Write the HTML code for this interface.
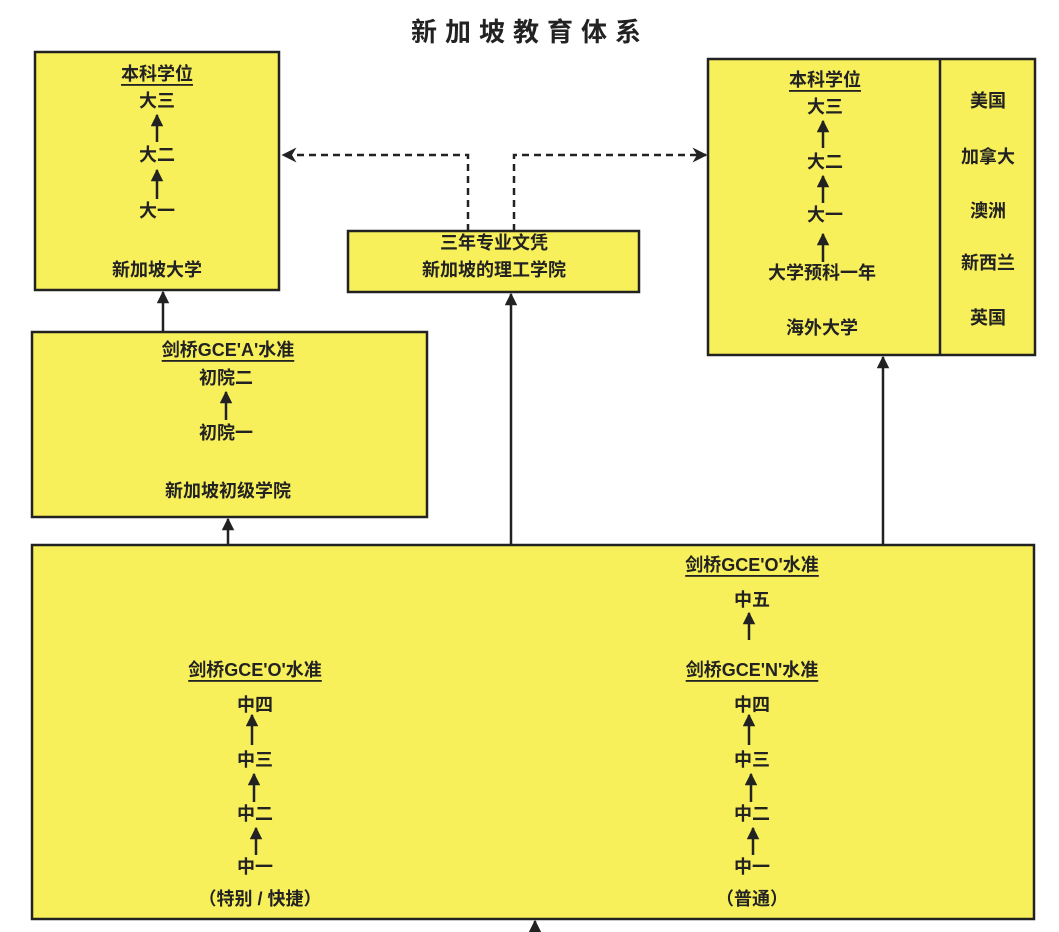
<!DOCTYPE html>
<html><head><meta charset="utf-8"><style>
body{margin:0;background:#fff}
svg{display:block}
text{font-family:"Liberation Sans","Noto Sans CJK SC",sans-serif;font-weight:bold;fill:#222;text-anchor:middle;dominant-baseline:central}
.b{fill:#f8f05a;stroke:#222;stroke-width:2.5}
.l{stroke:#222;stroke-width:2.5;fill:none}
.u{text-decoration:underline}
</style></head><body>
<svg width="1059" height="932" viewBox="0 0 1059 932" xmlns="http://www.w3.org/2000/svg">
<defs>
<marker id="a" viewBox="0 0 10 10" refX="9" refY="5" markerWidth="5" markerHeight="5" orient="auto"><path d="M0,0 L10,5 L0,10 z" fill="#222"/></marker>
<marker id="o" viewBox="0 0 10 10" refX="9" refY="5" markerWidth="6" markerHeight="6" orient="auto"><path d="M0,0 L10,5 L0,10 L3,5 z" fill="#222"/></marker>
</defs>
<text x="530" y="32" style="font-size:26px;letter-spacing:8px">新加坡教育体系</text>
<rect class="b" x="35" y="52" width="244" height="238"/>
<rect class="b" x="348" y="231" width="291" height="61"/>
<rect class="b" x="708" y="59" width="327" height="296"/>
<line class="l" x1="940" y1="59" x2="940" y2="355"/>
<rect class="b" x="32" y="332" width="395" height="185"/>
<rect class="b" x="32" y="545" width="1002" height="374"/>
<!-- connectors -->
<path class="l" d="M468,231 V155 H283" stroke-dasharray="7,5" marker-end="url(#o)"/>
<path class="l" d="M514,231 V155 H706" stroke-dasharray="7,5" marker-end="url(#o)"/>
<line class="l" x1="163" y1="332" x2="163" y2="292" marker-end="url(#a)"/>
<line class="l" x1="228" y1="545" x2="228" y2="519" marker-end="url(#a)"/>
<line class="l" x1="511" y1="545" x2="511" y2="294" marker-end="url(#a)"/>
<line class="l" x1="883" y1="545" x2="883" y2="357" marker-end="url(#a)"/>
<line class="l" x1="535" y1="940" x2="535" y2="921" marker-end="url(#a)"/>
<!-- left box -->
<g style="font-size:18px">
<text x="157" y="74" class="u" text-decoration="underline">本科学位</text>
<text x="157" y="101">大三</text><text x="157" y="155">大二</text><text x="157" y="211">大一</text>
<text x="157" y="270">新加坡大学</text>
<text x="494" y="243">三年专业文凭</text><text x="494" y="270">新加坡的理工学院</text>
<text x="825" y="80" text-decoration="underline">本科学位</text>
<text x="825" y="107">大三</text><text x="825" y="162">大二</text><text x="825" y="215">大一</text>
<text x="822" y="273">大学预科一年</text><text x="822" y="328">海外大学</text>
<text x="988" y="101">美国</text><text x="988" y="157">加拿大</text><text x="988" y="211">澳洲</text><text x="988" y="263">新西兰</text><text x="988" y="318">英国</text>
<text x="228" y="350" text-decoration="underline">剑桥GCE'A'水准</text>
<text x="226" y="378">初院二</text><text x="226" y="433">初院一</text><text x="228" y="491">新加坡初级学院</text>
<text x="255" y="670" text-decoration="underline">剑桥GCE'O'水准</text>
<text x="255" y="705">中四</text><text x="255" y="760">中三</text><text x="255" y="814">中二</text><text x="255" y="867">中一</text>
<text x="260" y="899">（特别 / 快捷）</text>
<text x="752" y="565" text-decoration="underline">剑桥GCE'O'水准</text>
<text x="752" y="600">中五</text>
<text x="752" y="670" text-decoration="underline">剑桥GCE'N'水准</text>
<text x="752" y="705">中四</text><text x="752" y="760">中三</text><text x="752" y="814">中二</text><text x="752" y="867">中一</text>
<text x="752" y="899">（普通）</text>
</g>
<!-- small arrows -->
<g>
<line class="l" x1="157" y1="142" x2="157" y2="115" marker-end="url(#a)"/>
<line class="l" x1="157" y1="199" x2="157" y2="170" marker-end="url(#a)"/>
<line class="l" x1="823" y1="148" x2="823" y2="121" marker-end="url(#a)"/>
<line class="l" x1="823" y1="203" x2="823" y2="176" marker-end="url(#a)"/>
<line class="l" x1="823" y1="262" x2="823" y2="234" marker-end="url(#a)"/>
<line class="l" x1="226" y1="420" x2="226" y2="392" marker-end="url(#a)"/>
<line class="l" x1="252" y1="745" x2="252" y2="715" marker-end="url(#a)"/>
<line class="l" x1="254" y1="802" x2="254" y2="774" marker-end="url(#a)"/>
<line class="l" x1="256" y1="855" x2="256" y2="828" marker-end="url(#a)"/>
<line class="l" x1="749" y1="640" x2="749" y2="613" marker-end="url(#a)"/>
<line class="l" x1="749" y1="745" x2="749" y2="715" marker-end="url(#a)"/>
<line class="l" x1="751" y1="802" x2="751" y2="774" marker-end="url(#a)"/>
<line class="l" x1="753" y1="855" x2="753" y2="828" marker-end="url(#a)"/>
</g>
</svg>
</body></html>
